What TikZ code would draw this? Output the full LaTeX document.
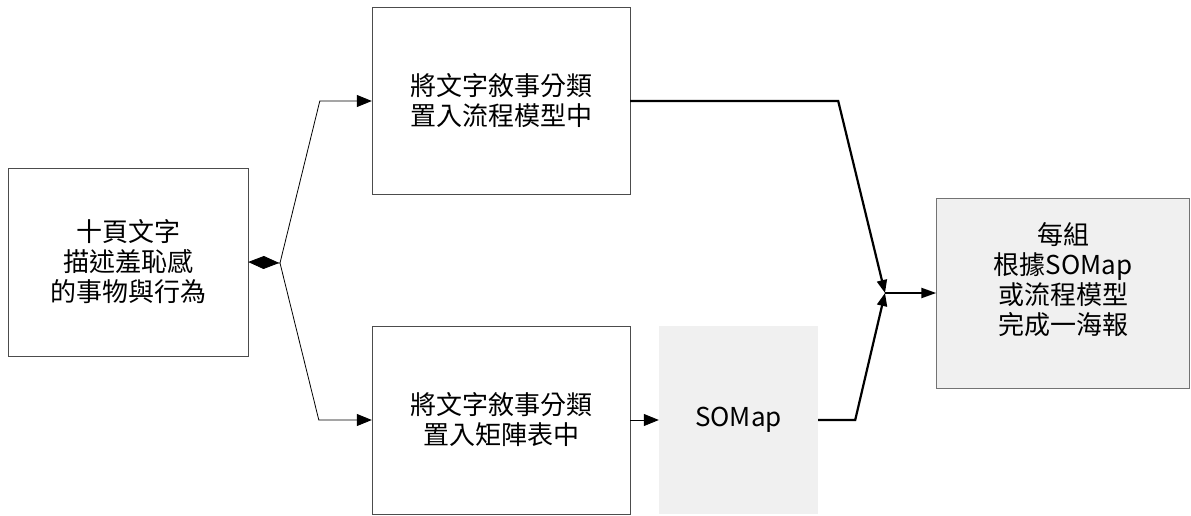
\documentclass[tikz,border=0pt]{standalone}
\usepackage{fontspec}
\setmainfont{Noto Sans CJK TC}
\usetikzlibrary{arrows.meta}

\begin{document}
\begin{tikzpicture}
        [x=1pt, y=-1pt,
        box/.style={rectangle, draw=black!70, thin, align=center, inner sep=0pt,
            font=\fontsize{26}{30}\selectfont},
        greybox/.style={box, fill=black!6},
        thinline/.style={black, line width=0.8pt},
        thickline/.style={black, line width=2.2pt},
        tip/.style={-{Triangle[length=15pt, width=12pt]}}]

        \useasboundingbox (0,0) rectangle (1191,516);

        \node[box, minimum width=240pt, minimum height=188pt] (text) at (128,262)
            {十頁文字\\描述羞恥感\\的事物與行為};
        \node[box, minimum width=258pt, minimum height=187pt] (flow) at (501,101)
            {將文字敘事分類\\置入流程模型中};
        \node[box, minimum width=258pt, minimum height=188pt] (matrix) at (501,420)
            {將文字敘事分類\\置入矩陣表中};
        \node[greybox, draw=none, minimum width=159pt, minimum height=188pt] (somap) at (738.5,420)
            {SOMap};
        \node[greybox, draw=black!55, minimum width=253pt, minimum height=190pt] (poster) at (1063,293)
            {每組\\根據SOMap\\或流程模型\\完成一海報\\\mbox{}};

        % split and merge points
        \coordinate (split) at (280,263);
        \coordinate (merge) at (885,293);

        \draw[thinline, -{Diamond[length=31pt, width=13pt]}] (split) -- (text.east);
        \draw[thinline, tip] (split) -- ([xshift=-52pt]flow.west) -- (flow.west);
        \draw[thinline, tip] (split) -- ([xshift=-53pt]matrix.west) -- (matrix.west);
        \draw[thinline, tip] (matrix.east) -- (somap.west);

        \draw[thickline, -{Triangle[length=13pt, width=10pt]}] (flow.east) -- ([xshift=208pt]flow.east) -- (merge);
        \draw[thickline, -{Triangle[length=13pt, width=10pt]}] (somap.east) -- ([xshift=37pt]somap.east) -- (merge);
        \draw[thickline, -{Triangle[length=15pt, width=10pt]}] (merge) -- (poster.west);
    \end{tikzpicture}
\end{document}
